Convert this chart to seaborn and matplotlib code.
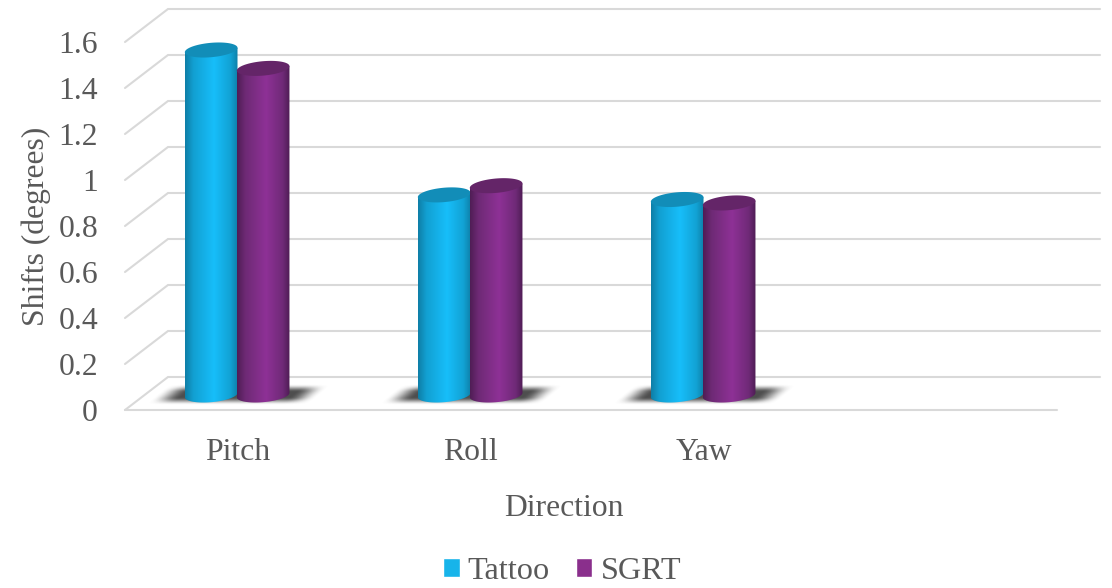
import numpy as np
import pandas as pd
import matplotlib
matplotlib.use("Agg")
import matplotlib.pyplot as plt
from matplotlib.colors import to_rgb
from matplotlib.patches import Polygon
import seaborn as sns

categories = ["Pitch", "Roll", "Yaw", " "]
tattoo = [1.50, 0.87, 0.85, np.nan]
sgrt = [1.42, 0.91, 0.835, np.nan]
series_names = ["Tattoo", "SGRT"]
flat_colors = ["#17B4EA", "#8A2F8C"]
top_colors = ["#128DB8", "#642568"]
stops = [
    ["#0E7EA6", "#12A0D2", "#17BEFA", "#12A2D4", "#0E80A8"],
    ["#4F1D55", "#6E2A75", "#8E3196", "#702A78", "#4E1C54"],
]
y_ticks = [0, 0.2, 0.4, 0.6, 0.8, 1, 1.2, 1.4, 1.6]
y_tick_labels = ["0", "0.2", "0.4", "0.6", "0.8", "1", "1.2", "1.4", "1.6"]

W, H = 1112, 588
TXT = "#595959"
sns.set_theme(style="white")
plt.rcParams["font.family"] = ["Liberation Serif", "DejaVu Serif"]

df = pd.DataFrame({"Direction": categories * 2,
                   "Series": [series_names[0]] * 4 + [series_names[1]] * 4,
                   "Shift": tattoo + sgrt})

fig = plt.figure(figsize=(W / 100, H / 100), dpi=100, facecolor="white")
ax = fig.add_axes([121 / W, (H - 410) / H, 932 / W, 368 / H])
sns.barplot(data=df, x="Direction", y="Shift", hue="Series", order=categories,
            hue_order=series_names, palette=flat_colors, width=0.452, gap=0,
            dodge=True, saturation=1, errorbar=None, ax=ax, zorder=3)

XLIM = (-0.5, 3.5)
YLIM = (0, 1.6)
ux = 4 / 932   # data units per pixel, horizontal
uy = 1.6 / 368 # data units per pixel, vertical

# wall and floor lines
grid_kw = dict(color="#D9D9D9", lw=1.5, clip_on=False, zorder=1, solid_joinstyle="miter")
x_l = XLIM[0] + 4 * ux
x_r = XLIM[1] + 4 * ux
for v in y_ticks:
    ax.plot([x_l, x_l + 43 * ux, x_r + 43 * ux], [v, v + 33 * uy, v + 33 * uy], **grid_kw)
ax.plot([x_l, x_r], [0, 0], **grid_kw)

# soft floor shadows
def smooth(t):
    t = np.clip(t, 0, 1)
    return t * t * (3 - 2 * t)

for c in range(3):
    px = np.linspace(-110, 110, 320)
    py = np.linspace(0, 32, 90)   # pixels above the front floor line
    X, Y = np.meshgrid(px, py)
    v = (Y - 5) / 21
    mid = -12 + 25 * v
    a = smooth((82 - np.abs(X - mid)) / 28) * smooth((1 - np.abs(v - 0.5) * 2) / 0.75)
    img = np.zeros(X.shape + (4,))
    img[..., :3] = 0.27
    img[..., 3] = a * 0.95
    ax.imshow(img, extent=(c + px[0] * ux, c + px[-1] * ux, py[0] * uy, py[-1] * uy),
              origin="lower", aspect="auto", interpolation="bilinear", zorder=2, clip_on=False)

# cylinders: bars from the library, shaded over their own geometry
offset = 15 * uy
semi_h = 7.2 * uy
tilt = 2.2 * uy
theta = np.linspace(0, 2 * np.pi, 121)
for s, container in enumerate(ax.containers):
    cmap = np.array([to_rgb(c) for c in stops[s]])
    pos = np.array([0, 0.16, 0.55, 0.86, 1])
    t = np.linspace(0, 1, 200)
    grad = np.stack([np.interp(t, pos, cmap[:, k]) for k in range(3)], axis=-1)[None, ...]
    for patch in container.patches:
        h = patch.get_height()
        patch.set_visible(False)
        if not np.isfinite(h) or h == 0:
            continue
        x0, w = patch.get_x(), patch.get_width()
        x0 -= s * 0.7 * ux
        cx, a = x0 + w / 2, w / 2
        zo = 3 + s * 0.1
        ex = np.cos(theta)
        ey = np.sin(theta) * semi_h + ex * tilt
        # body outline
        low = theta[60:121]
        body_x = np.r_[cx + a * np.cos(low), x0 + w, x0]
        body_y = np.r_[offset + np.sin(low) * semi_h + np.cos(low) * tilt,
                       h + offset + tilt, h + offset - tilt]
        clip = Polygon(np.c_[body_x, body_y], closed=True, transform=ax.transData)
        im = ax.imshow(grad, extent=(x0, x0 + w, 0, h + offset + tilt), aspect="auto",
                       interpolation="bilinear", zorder=zo, clip_on=True)
        im.set_clip_path(clip)
        ax.fill(cx + a * ex, h + offset + ey, color=top_colors[s], lw=0, zorder=zo + 0.01)

ax.set_xlim(*XLIM)
ax.set_ylim(*YLIM)
ax.set_yticks(y_ticks, y_tick_labels)
ax.tick_params(axis="both", length=0, labelsize=22.8, labelcolor=TXT)
ax.tick_params(axis="y", pad=16.5)
ax.tick_params(axis="x", pad=20)
ax.set_xlabel("Direction", fontsize=22.8, color=TXT, labelpad=19.5, x=0.475)
ax.set_ylabel("Shifts (degrees)", fontsize=22.8, color=TXT, labelpad=5)
for sp in ax.spines.values():
    sp.set_visible(False)
ax.patch.set_alpha(0)

handles, labels = ax.get_legend_handles_labels()
ax.legend(handles, labels, loc="center", bbox_to_anchor=(562 / W, (H - 571.5) / H),
          bbox_transform=fig.transFigure, ncols=2, frameon=False, fontsize=23.2,
          labelcolor=TXT, handlelength=0.52, handleheight=0.52, handletextpad=0.25,
          columnspacing=0.8, borderpad=0, borderaxespad=0)

fig.savefig("out.png", dpi=100)
